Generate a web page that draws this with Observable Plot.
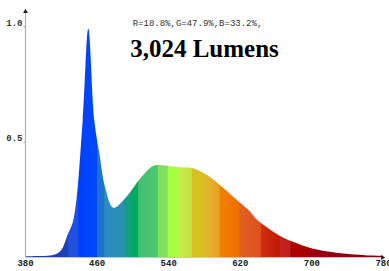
<!DOCTYPE html>
<html>
<head>
<meta charset="utf-8">
<script src="https://cdn.jsdelivr.net/npm/d3@7"></script>
<script src="https://cdn.jsdelivr.net/npm/@observablehq/plot@0.6"></script>
<style>
  html, body { margin: 0; padding: 0; background: #fff; }
  #chart svg { display: block; }
</style>
</head>
<body>
<div id="chart"></div>
<script>
// Spectral power distribution (relative intensity)
const wavelengths = [380, 395, 408, 416, 421, 427, 434, 444.5, 450.7, 457.4, 463, 469.4, 478.7, 493.6, 508.5, 523.4, 530.8, 553.2, 567.7, 583, 601.2, 620.2, 631.4, 638.9, 653.7, 668.3, 687.3, 705.9, 735.3, 760, 780];
const intensity   = [0.003, 0.004, 0.006, 0.015, 0.032, 0.09, 0.16, 0.594, 0.99, 0.594, 0.45, 0.304, 0.213, 0.262, 0.339, 0.395, 0.398, 0.389, 0.385, 0.356, 0.30, 0.235, 0.197, 0.162, 0.119, 0.084, 0.054, 0.032, 0.015, 0.008, 0.005];

const xTicks = [380, 460, 540, 620, 700, 780];
const yTicks = [0.5, 1.0];
const yMax = 1.07;

const title = "3,024 Lumens";
const subtitle = "R=18.8%,G=47.9%,B=33.2%,";

// Spectrum colour bands (wavelength in nm -> colour)
const bandNm = [380, 405, 428, 429, 439, 440, 460, 461, 468, 469, 491, 492, 499, 500, 506, 507, 528, 529, 539, 540, 551, 552, 566, 567, 581, 582, 597, 598, 619, 620, 643, 644, 664, 665, 676, 677, 698, 699, 724, 780];
const bandColor = ["#1a3a9e", "#1c3cb0", "#1e40b8", "#2050e0", "#2050e0", "#0040ff", "#0048f8", "#2070d0", "#2070d0", "#2a8cc0", "#2890b0", "#10a080", "#10a080", "#00a860", "#00a860", "#40c070", "#50c870", "#80e060", "#80e060", "#a8ff40", "#a8ff40", "#c0f050", "#c8e040", "#d8c020", "#d8c020", "#e0b830", "#e8a020", "#f08000", "#f07000", "#e06020", "#e05020", "#d03010", "#c01800", "#c82020", "#c02020", "#b00000", "#a80000", "#a00010", "#900010", "#800010"];

const data = wavelengths.map((w, i) => ({w, v: intensity[i]}));

const plot = Plot.plot({
  width: 389,
  height: 271,
  marginLeft: 25,
  marginRight: 6,
  marginTop: 10,
  marginBottom: 14,
  style: {background: "#fff", overflow: "visible"},
  x: {type: "linear", domain: [380, 780], axis: null},
  y: {type: "linear", domain: [0, yMax], axis: null},
  marks: [
    Plot.areaY(data, {x: "w", y: "v", curve: "catmull-rom", fill: "url(#spectrum)"}),
    Plot.ruleX([380], {y1: 0, y2: yMax, stroke: "#b0b0b0", strokeWidth: 1.2}),
    Plot.ruleY([0], {x1: 380, x2: 780, stroke: "#c8c8c8", strokeWidth: 1.2}),
    Plot.dot([{x: 380, y: yMax}], {x: "x", y: "y", symbol: "triangle", r: 1.8, fill: "#222", stroke: null, dy: 1}),
    Plot.dot([{x: 780, y: 0}], {x: "x", y: "y", symbol: "triangle", r: 1.8, fill: "#222", stroke: null, rotate: 90, dx: -1}),
    Plot.ruleY(yTicks, {x1: 380, x2: 382, dx: -1.5, stroke: "#999"}),
    Plot.text(yTicks, {x: 380, y: d => d, text: d => d.toFixed(1), textAnchor: "end", dx: -3, dy: -4,
      fontFamily: "Liberation Mono, monospace", fontSize: 9, fontWeight: "bold", fill: "#333"}),
    Plot.text(xTicks, {x: d => d, y: 0, text: d => String(d), dy: 2, lineAnchor: "top",
      fontFamily: "Liberation Mono, monospace", fontSize: 9, fontWeight: "bold", fill: "#222"}),
    Plot.text([subtitle], {frameAnchor: "top", text: d => d, dx: -7, dy: 13, lineAnchor: "middle",
      fontFamily: "Liberation Mono, monospace", fontSize: 9, fill: "#333"}),
    Plot.text([title], {frameAnchor: "top", text: d => d, dy: 38, lineAnchor: "middle",
      fontFamily: "Liberation Serif, Times New Roman, serif", fontSize: 25, fontWeight: "bold", fill: "#000"})
  ]
});

// gradient definition for the spectrum fill
const svg = d3.select(plot);
const defs = svg.insert("defs", ":first-child");
const grad = defs.append("linearGradient").attr("id", "spectrum")
  .attr("x1", "0%").attr("x2", "100%").attr("y1", "0%").attr("y2", "0%");
bandNm.forEach((nm, i) => {
  grad.append("stop").attr("offset", ((nm - 380) / 400 * 100) + "%").attr("stop-color", bandColor[i]);
});

document.getElementById("chart").appendChild(plot);
</script>
</body>
</html>
